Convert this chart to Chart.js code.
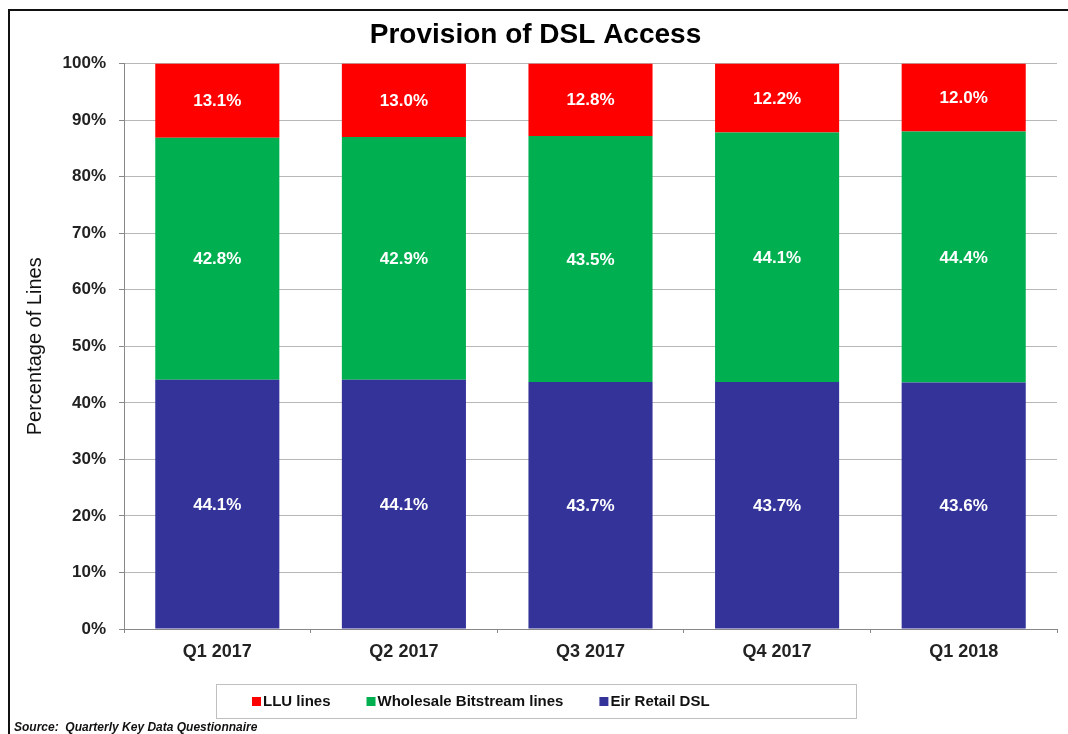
<!DOCTYPE html>
<html>
<head>
<meta charset="utf-8">
<script src="https://cdn.jsdelivr.net/npm/chart.js@4.4.1/dist/chart.umd.min.js"></script>
<style>
  html, body { margin: 0; padding: 0; background: #fff; }
  #wrap { width: 1068px; height: 734px; }
</style>
</head>
<body>
<div id="wrap"><canvas id="chart" width="1068" height="734"></canvas></div>
<script>
const FONT = '"Liberation Sans", Arial, sans-serif';

// Datos
const trimestres = ['Q1 2017', 'Q2 2017', 'Q3 2017', 'Q4 2017', 'Q1 2018'];
const eirRetail = [44.1, 44.1, 43.7, 43.7, 43.6];
const wholesale = [42.8, 42.9, 43.5, 44.1, 44.4];
const llu = [13.1, 13.0, 12.8, 12.2, 12.0];
const ticksY = [0, 10, 20, 30, 40, 50, 60, 70, 80, 90, 100];

const COLOR_LLU = '#ff0000';
const COLOR_WHOLESALE = '#00b050';
const COLOR_EIR = '#333399';
const COLOR_GRID = '#b8b8b8';
const COLOR_TEXTO = '#222222';

// Etiquetas blancas centradas en cada segmento
const etiquetasSegmento = {
    id: 'etiquetasSegmento',
    afterDatasetsDraw(chart) {
        const ctx = chart.ctx;
        ctx.save();
        ctx.fillStyle = '#ffffff';
        ctx.font = `bold 17px ${FONT}`;
        ctx.textAlign = 'center';
        ctx.textBaseline = 'middle';
        chart.data.datasets.forEach((ds, i) => {
            chart.getDatasetMeta(i).data.forEach((bar, j) => {
                ctx.fillText(`${ds.data[j].toFixed(1)}%`, bar.x, (bar.y + bar.base) / 2 + 1);
            });
        });
        ctx.restore();
    }
};

// Marco exterior, leyenda en caja y fuente
const decoracion = {
    id: 'decoracion',
    beforeDraw(chart) {
        const ctx = chart.ctx;
        ctx.save();
        ctx.strokeStyle = '#111';
        ctx.lineWidth = 2;
        ctx.beginPath();
        ctx.moveTo(9, chart.height);
        ctx.lineTo(9, 10);
        ctx.lineTo(chart.width, 10);
        ctx.stroke();
        ctx.restore();
    },
    afterDraw(chart) {
        const ctx = chart.ctx;
        const area = chart.chartArea;
        ctx.save();

        // leyenda (orden inverso al apilado)
        const boxLeft = chart.width / 2 - 318;
        const boxTop = area.bottom + 55;
        ctx.strokeStyle = '#c0c0c0';
        ctx.lineWidth = 1;
        ctx.strokeRect(boxLeft + 0.5, boxTop + 0.5, 640, 34);

        ctx.font = `bold 15px ${FONT}`;
        ctx.textBaseline = 'middle';
        ctx.textAlign = 'left';
        let x = boxLeft + 36;
        const yMid = boxTop + 18;
        const items = chart.data.datasets.slice().reverse();
        items.forEach((ds) => {
            ctx.fillStyle = ds.backgroundColor;
            ctx.fillRect(x, yMid - 5, 9, 9);
            x += 11;
            ctx.fillStyle = '#111';
            ctx.fillText(ds.label, x, yMid);
            x += ctx.measureText(ds.label).width + 36;
        });

        ctx.font = `italic bold 12px ${FONT}`;
        ctx.fillStyle = '#111';
        ctx.textBaseline = 'alphabetic';
        ctx.fillText('Source:  Quarterly Key Data Questionnaire', 14, 731);
        ctx.restore();
    }
};

new Chart(document.getElementById('chart'), {
    type: 'bar',
    data: {
        labels: trimestres,
        datasets: [
            { label: 'Eir Retail DSL', data: eirRetail, backgroundColor: COLOR_EIR },
            { label: 'Wholesale Bitstream lines', data: wholesale, backgroundColor: COLOR_WHOLESALE },
            { label: 'LLU lines', data: llu, backgroundColor: COLOR_LLU }
        ]
    },
    options: {
        responsive: false,
        animation: false,
        categoryPercentage: 1,
        barPercentage: 0.665,
        layout: { padding: { left: 14, right: 11, top: 0, bottom: 65 } },
        plugins: {
            legend: { display: false },
            tooltip: { enabled: false },
            title: {
                display: true,
                text: 'Provision of DSL Access',
                color: '#000',
                font: { family: FONT, size: 28, weight: 'bold' },
                padding: { top: 18, bottom: 12 }
            }
        },
        scales: {
            x: {
                stacked: true,
                afterFit: (scale) => { scale.height = 40; },
                grid: {
                    offset: true,
                    drawOnChartArea: true,
                    color: (c) => (c.index === trimestres.length ? COLOR_GRID : 'rgba(0,0,0,0)'),
                    tickColor: '#888',
                    tickLength: 4,
                    lineWidth: 1
                },
                border: { color: '#888', width: 1 },
                ticks: {
                    color: COLOR_TEXTO,
                    padding: 8,
                    font: { family: FONT, size: 18, weight: 'bold' }
                }
            },
            y: {
                stacked: true,
                min: 0,
                max: 100,
                afterFit: (scale) => { scale.width = 110; },
                afterBuildTicks: (scale) => { scale.ticks = ticksY.map((v) => ({ value: v })); },
                grid: {
                    color: COLOR_GRID,
                    tickColor: '#888',
                    tickLength: 5,
                    lineWidth: 1
                },
                border: { color: '#888', width: 1 },
                ticks: {
                    color: COLOR_TEXTO,
                    padding: 13,
                    font: { family: FONT, size: 17, weight: 'bold' },
                    callback: (v) => `${v}%`
                },
                title: {
                    display: true,
                    text: 'Percentage of Lines',
                    color: '#111',
                    padding: { top: 9, bottom: 0 },
                    font: { family: FONT, size: 20 }
                }
            }
        }
    },
    plugins: [etiquetasSegmento, decoracion]
});
</script>
</body>
</html>
